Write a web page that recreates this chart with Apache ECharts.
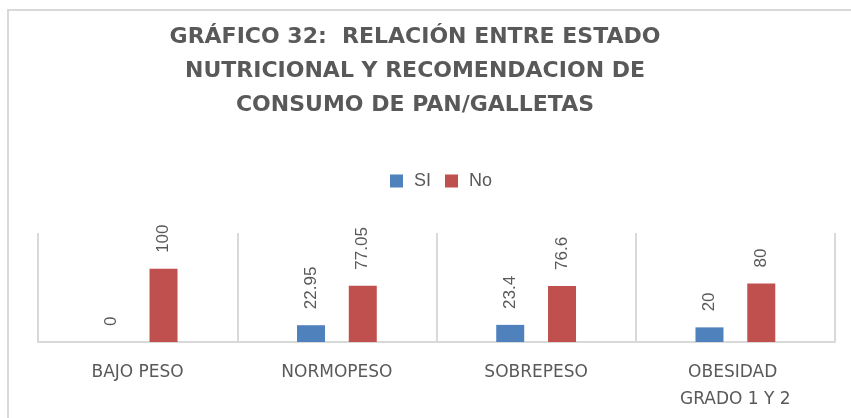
<!DOCTYPE html>
<html>
<head>
<meta charset="utf-8">
<script src="https://cdn.jsdelivr.net/npm/echarts@6/dist/echarts.min.js"></script>
<style>
  html, body { margin: 0; padding: 0; background: #fff; }
  #chart { width: 851px; height: 418px; }
</style>
</head>
<body>
<div id="chart"></div>
<script>
var categorias = ['BAJO PESO', 'NORMOPESO', 'SOBREPESO', 'OBESIDAD GRADO 1 Y 2'];
var valoresSi = [0, 22.95, 23.4, 20];
var valoresNo = [100, 77.05, 76.6, 80];

var myChart = echarts.init(document.getElementById('chart'));

var etiqueta = {
    show: true,
    position: 'top',
    rotate: 90,
    align: 'left',
    verticalAlign: 'middle',
    distance: 16,
    color: '#595959',
    fontFamily: 'Liberation Sans',
    fontSize: 17
};

var option = {
    backgroundColor: '#ffffff',
    animation: false,
    graphic: [{
        type: 'rect',
        shape: { x: 8, y: 10, width: 900, height: 500 },
        style: { fill: 'none', stroke: '#d9d9d9', lineWidth: 2 }
    }],
    title: {
        text: 'GRÁFICO 32:  RELACIÓN ENTRE ESTADO\nNUTRICIONAL Y RECOMENDACION DE\nCONSUMO DE PAN/GALLETAS',
        left: 410,
        top: 15,
        textAlign: 'center',
        textStyle: {
            color: '#595959',
            fontFamily: 'DejaVu Sans',
            fontWeight: 'bold',
            fontSize: 22,
            lineHeight: 34
        }
    },
    legend: {
        data: ['SI', 'No'],
        left: 390,
        top: 172,
        padding: 0,
        itemWidth: 13,
        itemHeight: 13,
        itemGap: 14,
        icon: 'rect',
        textStyle: {
            color: '#595959',
            fontFamily: 'Liberation Sans',
            fontSize: 18,
            padding: [0, 0, 0, 6]
        }
    },
    grid: {
        left: 38,
        right: 16,
        top: 233,
        bottom: 76
    },
    xAxis: {
        type: 'category',
        data: categorias,
        axisLine: { lineStyle: { color: '#d9d9d9', width: 2 } },
        axisTick: { show: false },
        splitLine: { show: true, interval: 0, lineStyle: { color: '#d9d9d9', width: 2 } },
        axisLabel: {
            interval: 0,
            margin: 17,
            color: '#595959',
            fontFamily: 'DejaVu Sans',
            fontSize: 17,
            lineHeight: 27,
            width: 150,
            overflow: 'break'
        }
    },
    yAxis: {
        type: 'value',
        min: 0,
        max: 149,
        show: false,
        splitLine: { show: false }
    },
    series: [
        {
            name: 'SI',
            type: 'bar',
            data: valoresSi,
            barWidth: 28,
            barGap: '85%',
            itemStyle: { color: '#4f81bd' },
            label: etiqueta
        },
        {
            name: 'No',
            type: 'bar',
            data: valoresNo,
            barWidth: 28,
            itemStyle: { color: '#c0504d' },
            label: etiqueta
        }
    ]
};

myChart.setOption(option);
window.addEventListener('resize', function () {
    myChart.resize();
});
</script>
</body>
</html>
